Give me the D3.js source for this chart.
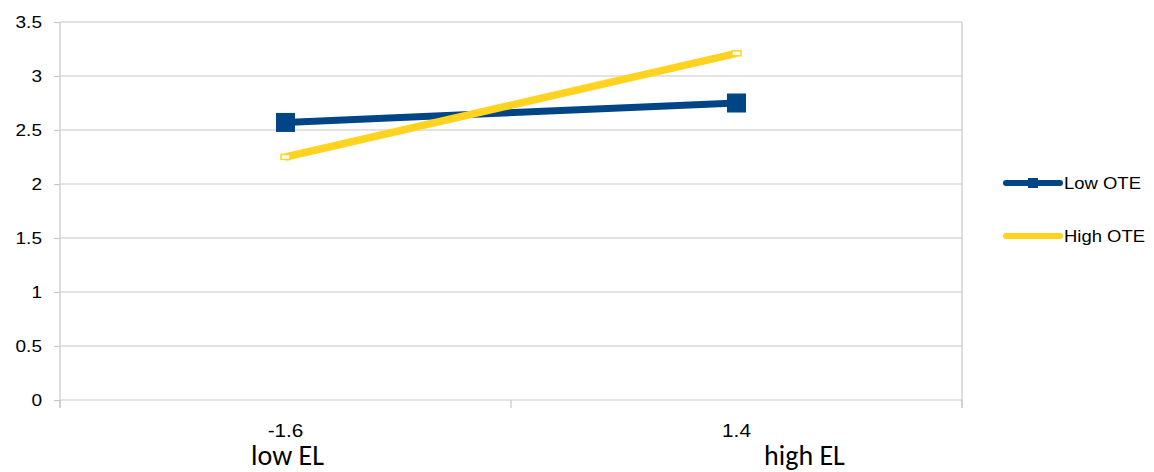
<!DOCTYPE html>
<html>
<head>
<meta charset="utf-8">
<script src="https://cdn.jsdelivr.net/npm/d3@7"></script>
<style>
  body { margin: 0; background: #fff; }
  svg { display: block; }
</style>
</head>
<body>
<svg id="chart" width="1154" height="472"></svg>
<script>
// Interaction plot data
const categories = ["-1.6", "1.4"];
const groupLabels = ["low EL", "high EL"];
const lowOTE = [2.57, 2.75];
const highOTE = [2.25, 3.21];
const seriesNames = ["Low OTE", "High OTE"];
const yTicks = [0, 0.5, 1, 1.5, 2, 2.5, 3, 3.5];

const blue = "#004586";
const yellow = "#ffd320";
const gridColor = "#c8c8c8";
const sans = "'Liberation Sans', Arial, sans-serif";
const stretch = 1.12; // slightly widened glyphs

const svg = d3.select("#chart");
const plotLeft = 60, plotRight = 962, plotTop = 22, plotBottom = 400;

const x = d3.scaleBand().domain(categories).range([plotLeft, plotRight]);
const y = d3.scaleLinear().domain([0, 3.5]).range([plotBottom, plotTop]);
const cx = d => x(d) + x.bandwidth() / 2;

// horizontal gridlines
svg.append("g").selectAll("line").data(yTicks).join("line")
  .attr("x1", plotLeft).attr("x2", plotRight)
  .attr("y1", d => y(d)).attr("y2", d => y(d))
  .attr("stroke", gridColor).attr("stroke-width", 1.2);

// right border of the plot area
svg.append("line").attr("x1", plotRight).attr("x2", plotRight)
  .attr("y1", plotTop).attr("y2", plotBottom + 8)
  .attr("stroke", gridColor).attr("stroke-width", 1.2);

// y axis
const yAxis = svg.append("g").attr("transform", `translate(${plotLeft},0)`)
  .call(d3.axisLeft(y).tickValues(yTicks).tickSize(6).tickFormat(""));
yAxis.select(".domain").attr("stroke", gridColor).attr("stroke-width", 1.2)
  .attr("d", `M0,${plotTop}V${plotBottom + 8}`);
yAxis.selectAll(".tick line").attr("stroke", gridColor).attr("stroke-width", 1.2);
svg.append("g").selectAll("text").data(yTicks).join("text")
  .attr("transform", d => `translate(42,${y(d) + 6}) scale(${stretch},1)`)
  .attr("text-anchor", "end")
  .attr("font-family", sans).attr("font-size", 17).attr("fill", "#000")
  .text(d => String(d));

// x axis: category boundaries as ticks
const xAxis = svg.append("g").attr("transform", `translate(0,${plotBottom})`);
const bounds = [plotLeft, plotLeft + x.bandwidth(), plotRight];
xAxis.selectAll("line.tk").data(bounds).join("line").attr("class", "tk")
  .attr("x1", d => d).attr("x2", d => d).attr("y1", 0).attr("y2", 8)
  .attr("stroke", gridColor).attr("stroke-width", 1.2);
xAxis.selectAll("text.cat").data(categories).join("text").attr("class", "cat")
  .attr("transform", d => `translate(${cx(d)},36.5) scale(${stretch},1)`)
  .attr("text-anchor", "middle")
  .attr("font-family", sans).attr("font-size", 18.5).attr("fill", "#000")
  .text(d => d);
xAxis.selectAll("text.grp").data(groupLabels).join("text").attr("class", "grp")
  .attr("x", (d, i) => cx(categories[i]) + (i === 1 ? 68 : 2))
  .attr("y", 65)
  .attr("text-anchor", "middle")
  .attr("font-family", "Carlito, 'Open Sans', sans-serif").attr("font-size", 28)
  .attr("fill", "#000")
  .text(d => d);

const line = d3.line().x(d => cx(d.c)).y(d => y(d.v));
const lowData = categories.map((c, i) => ({ c, v: lowOTE[i] }));
const highData = categories.map((c, i) => ({ c, v: highOTE[i] }));

// Low OTE series
svg.append("path").datum(lowData).attr("d", line)
  .attr("fill", "none").attr("stroke", blue).attr("stroke-width", 7);
svg.append("g").selectAll("rect").data(lowData).join("rect")
  .attr("x", d => cx(d.c) - 9.5).attr("y", d => y(d.v) - 9.5)
  .attr("width", 19).attr("height", 19).attr("fill", blue);

// High OTE series
svg.append("path").datum(highData).attr("d", line)
  .attr("fill", "none").attr("stroke", yellow).attr("stroke-width", 7.5);
svg.append("g").selectAll("rect").data(highData).join("rect")
  .attr("x", d => cx(d.c) - 4.5).attr("y", d => y(d.v) - 2.5)
  .attr("width", 9).attr("height", 5)
  .attr("fill", "#fff").attr("stroke", yellow).attr("stroke-width", 1.5);

// legend
const legend = svg.append("g");
const legY = [183, 236];
legend.append("line").attr("x1", 1006).attr("x2", 1060).attr("y1", legY[0]).attr("y2", legY[0])
  .attr("stroke", blue).attr("stroke-width", 6).attr("stroke-linecap", "round");
legend.append("rect").attr("x", 1028).attr("y", legY[0] - 5).attr("width", 10).attr("height", 10)
  .attr("fill", blue);
legend.append("line").attr("x1", 1006).attr("x2", 1060).attr("y1", legY[1]).attr("y2", legY[1])
  .attr("stroke", yellow).attr("stroke-width", 6).attr("stroke-linecap", "round");
legend.selectAll("text").data(seriesNames).join("text")
  .attr("transform", (d, i) => `translate(1064,${legY[i] + 6}) scale(${stretch},1)`)
  .attr("font-family", sans).attr("font-size", 16.5)
  .attr("fill", "#000")
  .text(d => d);
</script>
</body>
</html>
